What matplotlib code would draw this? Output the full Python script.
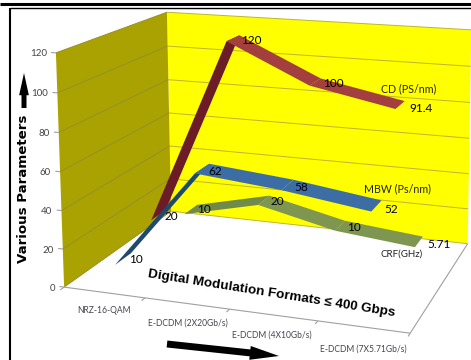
import numpy as np
import matplotlib
matplotlib.use('Agg')
import matplotlib.pyplot as plt
from matplotlib.patches import FancyArrowPatch
from mpl_toolkits.mplot3d.art3d import Poly3DCollection, Line3DCollection
from mpl_toolkits.mplot3d import proj3d

W, H = 471, 360

# Chart data
categories = ['NRZ-16-QAM', 'E-DCDM (2X20Gb/s)', 'E-DCDM (4X10Gb/s)', 'E-DCDM (7X5.71Gb/s)']
value_ticks = [0, 20, 40, 60, 80, 100, 120]
cd = [20, 120, 100, 91.4]
mbw = [10, 62, 58, 52]
crf = [10, 20, 10, 5.71]
cd_labels = ['20', '120', '100', '91.4']
mbw_labels = ['10', '62', '58', '52']
crf_labels = ['10', '20', '10', '5.71']

# Camera: box corners (category, depth, value) and where they land on the canvas
box_pts = [(0, 0, 0), (0, 0, 120), (0, 1, 0), (0, 1, 120), (4, 1, 0), (4, 1, 120),
           (4, 0, 0), (1, 0, 0), (3, 0, 0)]
img_pts = [(65, 286), (55, 53), (170, 212), (168, 12), (468, 243), (471, 30),
           (410, 333), (145, 298), (318, 322)]

rows = []
for (x, y, z), (u, v) in zip(box_pts, img_pts):
    v = H - v
    rows.append([x, y, z, 1, 0, 0, 0, 0, -u*x, -u*y, -u*z, -u])
    rows.append([0, 0, 0, 0, x, y, z, 1, -v*x, -v*y, -v*z, -v])
P = np.linalg.svd(np.array(rows, dtype=float))[2][-1].reshape(3, 4)
if P[2] @ np.array([2, 0.5, 60, 1]) < 0:
    P = -P
M = np.array([P[0], P[1], [0, 1, 0, 0], P[2]])


def to_px(x, y, z):
    u, v, _ = proj3d.proj_transform(x, y, z, M)
    return u, H - v


fig = plt.figure(figsize=(W/100, H/100), dpi=100)
ax = fig.add_subplot(projection='3d', computed_zorder=False)
ax.set_position([0, 0, 1, 1])
ax.get_proj = lambda: M
ax.apply_aspect = lambda position=None: None
ax.set_axis_off()
ax.viewLim.intervalx = (0, W)
ax.viewLim.intervaly = (0, H)

# Walls
ax.add_collection3d(Poly3DCollection([[(0, 1, 0), (4, 1, 0), (4, 1, 120), (0, 1, 120)]],
                                     facecolor='#ffff00', edgecolor='none', zorder=1))
ax.add_collection3d(Poly3DCollection([[(0, 0, 0), (0, 1, 0), (0, 1, 120), (0, 0, 120)]],
                                     facecolor='#aaa200', edgecolor='none', zorder=1))

# Gridlines along both walls, floor edges and tick marks
side = [[(0, 0, val), (0, 1, val)] for val in value_ticks]
back = [[(0, 1, val), (4, 1, val)] for val in value_ticks]
floor = [[(0, 0, 0), (4, 0, 0)], [(4, 0, 0), (4, 1, 0)]]
floor += [[(i, 0, 0), (i, -0.03, 0)] for i in range(5)]
floor += [[(0, 0, val), (-0.06, 0, val)] for val in value_ticks]
ax.add_collection3d(Line3DCollection(side, colors='#96902a', linewidths=0.7, zorder=2))
ax.add_collection3d(Line3DCollection(back, colors='#bdb630', linewidths=0.7, zorder=2))
ax.add_collection3d(Line3DCollection(floor, colors='#a0a0a0', linewidths=0.8, zorder=2))


def ribbon(values, depth, colors, zorder):
    half = 0.07
    for i in range(len(values) - 1):
        x0, x1 = i + 0.5, i + 1.5
        quad = [(x0, depth - half, values[i]), (x1, depth - half, values[i + 1]),
                (x1, depth + half, values[i + 1]), (x0, depth + half, values[i])]
        ax.add_collection3d(Poly3DCollection([quad], facecolor=colors[i],
                                             edgecolor='none', zorder=zorder))


ribbon(crf, 5/6, ['#6f8a4a', '#7f9650', '#7f9650'], 3)
ribbon(cd, 1/2, ['#6b1c26', '#a33f3f', '#a33f3f'], 4)
ribbon(mbw, 1/6, ['#1f4a70', '#3d6da5', '#3d6da5'], 5)

# Flat overlay in pixel units for the text, frame and arrows
over = fig.add_axes([0, 0, 1, 1])
over.set_xlim(0, W)
over.set_ylim(H, 0)
over.axis('off')
over.patch.set_alpha(0)

FONT = 'Lato'
for val in value_ticks:
    u, v = to_px(0, 0, val)
    over.text(u - 9, v + 1, str(val), ha='right', va='center', fontsize=7,
              color='#444444', family=FONT)
tick_offsets = [(0, 18), (1, 20), (-1, 20), (0, 22)]
for i, name in enumerate(categories):
    u, v = to_px(i + 0.5, 0, 0)
    du, dv = tick_offsets[i]
    over.text(u + du, v + dv, name, ha='center', va='center', fontsize=6.15,
              color='#44444e', family=FONT)


def point_labels(values, labels, depth, offsets):
    for i, (val, text) in enumerate(zip(values, labels)):
        u, v = to_px(i + 0.5, depth, val)
        over.text(u + offsets[i][0], v + offsets[i][1], text, ha='center', va='center',
                  fontsize=8.5, color='black', family=FONT)


point_labels(cd, cd_labels, 1/2, [(13, 1), (18, 2), (18, 2), (21, 3)])
point_labels(mbw, mbw_labels, 1/6, [(13, 1), (13, 3), (14, 3), (15, 4)])
point_labels(crf, crf_labels, 5/6, [(13, 0), (13, 1), (14, 2), (20, 3)])

over.text(409, 89, 'CD (PS/nm)', ha='center', va='center', fontsize=7.7, color='#222222', family=FONT)
over.text(397, 189, 'MBW (Ps/nm)', ha='center', va='center', fontsize=7.7, color='#222222', family=FONT)
over.text(402, 254, 'CRF(GHz)', ha='center', va='center', fontsize=7, color='#222222', family=FONT)

over.text(271, 294, 'Digital Modulation Formats \u2264 400 Gbps', ha='center', va='center',
          rotation=-9, rotation_mode='anchor', fontsize=9.7, fontweight='bold', color='black',
          family=['Liberation Sans', 'DejaVu Sans'])
over.text(24, 189, 'Various Parameters', ha='center', va='center', rotation=90,
          fontsize=9.6, fontweight='bold', color='black')

# Frame rules
over.plot([0, W], [4, 4], color='black', lw=2.2, solid_capstyle='butt')
over.plot([10, W], [8, 8], color='black', lw=1, solid_capstyle='butt')
over.plot([10, 10], [8, H], color='black', lw=1.5, solid_capstyle='butt')

# Direction arrows
over.add_patch(FancyArrowPatch((24, 108), (24, 73), mutation_scale=1, color='black', lw=0,
                               shrinkA=0, shrinkB=0,
                               arrowstyle='simple,tail_width=3.6,head_width=7,head_length=16'))
over.add_patch(FancyArrowPatch((167, 344), (279, 356), mutation_scale=1, color='black', lw=0,
                               shrinkA=0, shrinkB=0,
                               arrowstyle='simple,tail_width=5,head_width=10,head_length=21'))

fig.savefig('out.png', dpi=100)
